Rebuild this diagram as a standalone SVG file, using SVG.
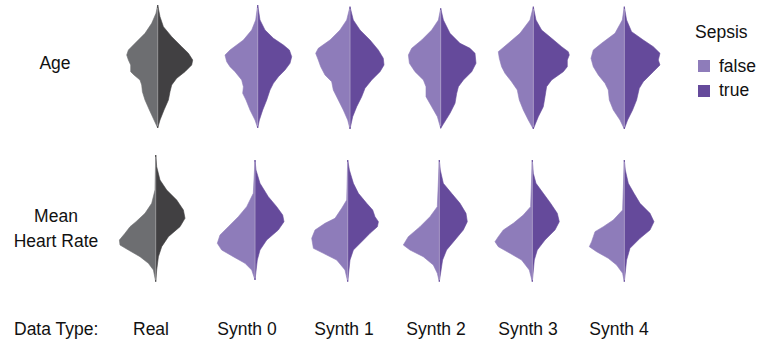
<svg xmlns="http://www.w3.org/2000/svg" width="773" height="341" viewBox="0 0 773 341">
<style>
text{font-family:"Liberation Sans",Arial,sans-serif;font-size:17.5px;fill:#111}
.mid{text-anchor:middle}
.rl{fill:#6d6e71;stroke:#6d6e71;stroke-width:0.6;stroke-linejoin:round}
.rr{fill:#414042;stroke:#414042;stroke-width:0.6;stroke-linejoin:round}
.fl{fill:#8e7cba;stroke:#8e7cba;stroke-width:0.6;stroke-linejoin:round}
.tr{fill:#654a9b;stroke:#654a9b;stroke-width:0.6;stroke-linejoin:round}
.cl{stroke:#ffffff;stroke-opacity:0.45;stroke-width:0.9}
</style>
<rect width="773" height="341" fill="#ffffff"/>
<g id="row-labels">
<text class="mid" x="55" y="69">Age</text>
<text class="mid" x="56" y="222">Mean</text>
<text class="mid" x="56" y="247">Heart Rate</text>
</g>
<g id="age-real" transform="translate(157.7,0)">
<path class="rl" d="M0,5 L-1.7,13.3 L-6,23.3 L-12.7,33.3 L-22.7,43.3 L-29.3,50 L-31,55 L-29.3,60 L-27,65 L-27,71.7 L-23.7,75 L-17.7,80 L-16,85 L-15.3,91.7 L-12.7,100 L-8.3,110 L-3.7,120 L0,128 Z"/>
<path class="rr" d="M0,5 L2.3,16.7 L5.7,26.7 L14,36.7 L24,46.7 L30.7,53.3 L35,60 L34,65 L27.3,71.7 L19,78.3 L14,85 L12.3,91.7 L10.7,100 L6.3,110 L2.3,120 L0,128 Z"/>
<line class="cl" x1="0" y1="8" x2="0" y2="126"/>
</g>
<g id="age-synth0" transform="translate(257.7,0)">
<path class="fl" d="M0,5 L-2,20 L-6,30 L-14.3,40 L-27.7,50 L-32.7,55 L-31,61.7 L-27.7,66.7 L-22.7,71.7 L-16,80 L-14.3,86.7 L-15,93.3 L-11.7,100 L-7.7,110 L-2.7,120 L0,128 Z"/>
<path class="tr" d="M0,5 L2.3,20 L7.3,30 L15.7,38.3 L25.7,45 L31.7,50 L34,56.7 L32.3,63.3 L27.3,70 L20.7,76.7 L15.7,83.3 L12.3,90 L9,100 L5,110 L1.7,120 L0,128 Z"/>
<line class="cl" x1="0" y1="8" x2="0" y2="126"/>
</g>
<g id="age-synth1" transform="translate(350,0)">
<path class="fl" d="M0,6.7 L-3.3,20 L-10,30 L-20,40 L-31.7,48.3 L-34.3,53.3 L-31.7,60 L-29.3,66.7 L-25,75 L-18.3,81.7 L-16.7,90 L-11.7,100 L-6.7,110 L-2.3,120 L0,129 Z"/>
<path class="tr" d="M0,6.7 L3.3,20 L10,30 L20,40 L28.3,50 L33.3,58.3 L34,65 L30,71.7 L21.7,80 L15,88.3 L11.7,96.7 L6.7,106.7 L2.7,116.7 L0,129 Z"/>
<line class="cl" x1="0" y1="9" x2="0" y2="127"/>
</g>
<g id="age-synth2" transform="translate(440.7,0)">
<path class="fl" d="M0,8.3 L-2.3,20 L-9,30 L-19,40 L-29,48.3 L-32.3,55 L-31.3,63.3 L-25.7,71.7 L-17.3,80 L-14.7,86.7 L-14.7,96.7 L-9,106.7 L-3.3,116.7 L0,128.3 Z"/>
<path class="tr" d="M0,8.3 L2.7,20 L9.3,33.3 L19.3,43.3 L29.3,48.3 L34.3,53.3 L35.3,63.3 L31,71.7 L22.7,80 L17.7,86.7 L16,93.3 L14.3,103.3 L9.3,113.3 L0,128.3 Z"/>
<line class="cl" x1="0" y1="10" x2="0" y2="126"/>
</g>
<g id="age-synth3" transform="translate(533.3,0)">
<path class="fl" d="M0,6.7 L-3.3,20 L-13.3,33.3 L-25,43.3 L-35,51.7 L-34,58.3 L-31.7,66.7 L-28.3,73.3 L-21.7,81.7 L-16,90 L-14,100 L-10,110 L-5,120 L0,129 Z"/>
<path class="tr" d="M0,6.7 L2.7,20 L8.3,30 L18.3,38.3 L28.3,46.7 L35,51.7 L36,55 L34,60 L34,66.7 L30,71.7 L18.3,80 L13.3,86.7 L11.7,96.7 L10,106.7 L5,116.7 L0,129 Z"/>
<line class="cl" x1="0" y1="9" x2="0" y2="127"/>
</g>
<g id="age-synth4" transform="translate(624.3,0)">
<path class="fl" d="M0,6.7 L-2,20 L-9.3,33.3 L-22.7,43.3 L-31,50 L-33.3,58.3 L-31,66.7 L-26,75 L-19.3,83.3 L-16,90 L-15,100 L-11,110 L-4.3,120 L0,129 Z"/>
<path class="tr" d="M0,6.7 L2.3,20 L7.3,31.7 L19,40 L29,46.7 L35.7,53.3 L34,60 L35.7,65 L29,71.7 L19,81.7 L15,88.3 L12.3,100 L8.3,110 L3.3,120 L0,129 Z"/>
<line class="cl" x1="0" y1="9" x2="0" y2="127"/>
</g>
<g id="hr-real" transform="translate(155.7,0)">
<path class="rl" d="M0,155 L-0.7,190 L-4,203.3 L-10.7,213.3 L-19.7,221.7 L-25.7,226.7 L-30.7,233.3 L-36.3,240 L-35.7,245 L-27.3,250 L-15.7,256.7 L-7.3,263.3 L-2.3,270 L0,281.7 Z"/>
<path class="rr" d="M0,155 L1,166.7 L4.3,180 L11,190 L21,200 L27.7,210 L29.3,218.3 L24.3,226.7 L12.7,236.7 L6,246.7 L2.7,256.7 L1,270 L0,281.7 Z"/>
<line class="cl" x1="0" y1="157" x2="0" y2="280"/>
</g>
<g id="hr-synth0" transform="translate(255,0)">
<path class="fl" d="M0,160 L-1.7,193.3 L-8.3,206.7 L-16.7,216.7 L-26.7,226.7 L-35,235 L-37.7,243.3 L-33.3,250 L-21.7,256.7 L-10,263.3 L-3.3,270 L0,280 Z"/>
<path class="tr" d="M0,160 L1,170 L5,183.3 L13.3,196.7 L21.7,206.7 L27.7,215 L29,221.7 L23.3,230 L11.7,240 L5,250 L2.3,260 L0,280 Z"/>
<line class="cl" x1="0" y1="162" x2="0" y2="278"/>
</g>
<g id="hr-synth1" transform="translate(347.7,0)">
<path class="fl" d="M0,160 L-1,200 L-6,208.3 L-12.7,218.3 L-22.7,223.3 L-32.7,230 L-36,238.3 L-34.3,248.3 L-24.3,253.3 L-11,260 L-2.7,270 L0,281.7 Z"/>
<path class="tr" d="M0,160 L1.7,170 L5.7,183.3 L10.7,193.3 L19,203.3 L25,210 L27.3,216.7 L30.7,221.7 L29.7,226.7 L22.3,233.3 L15.7,240 L5.7,250 L2.3,260 L0,281.7 Z"/>
<line class="cl" x1="0" y1="162" x2="0" y2="280"/>
</g>
<g id="hr-synth2" transform="translate(439.3,0)">
<path class="fl" d="M0,160 L-2,206.7 L-9.3,216.7 L-19.3,226.7 L-31,236.7 L-36,245 L-29.3,250 L-16,256.7 L-6,265 L-2,273.3 L0,281.7 Z"/>
<path class="tr" d="M0,160 L1,170 L4,183.3 L12.3,193.3 L20.7,203.3 L26.7,213.3 L28,221.7 L24,230 L15.7,240 L7.3,250 L3.3,260 L0,281.7 Z"/>
<line class="cl" x1="0" y1="162" x2="0" y2="280"/>
</g>
<g id="hr-synth3" transform="translate(532.3,0)">
<path class="fl" d="M0,160 L-1.7,206.7 L-9,215 L-19,223.3 L-29,230 L-34,236.7 L-37.3,241.7 L-34,246.7 L-22.3,253.3 L-10.7,260 L-3,270 L0,281.7 Z"/>
<path class="tr" d="M0,160 L1,173.3 L3.7,183.3 L11,193.3 L18.3,203.3 L25,213.3 L27,221.7 L22.7,230 L12.7,240 L5,250 L2,260 L0,281.7 Z"/>
<line class="cl" x1="0" y1="162" x2="0" y2="280"/>
</g>
<g id="hr-synth4" transform="translate(624.3,0)">
<path class="fl" d="M0,160 L-1.7,210 L-11,220 L-21,226.7 L-29.3,231.7 L-31,236.7 L-32.7,241.7 L-35,246.7 L-27.7,251.7 L-16,258.3 L-7.7,265 L-1.7,273.3 L0,281.7 Z"/>
<path class="tr" d="M0,160 L1,170 L4,183.3 L9.7,193.3 L15.7,203.3 L25.7,213.3 L29.7,221.7 L25.7,230 L15.7,238.3 L5.7,248.3 L2.3,260 L0,281.7 Z"/>
<line class="cl" x1="0" y1="162" x2="0" y2="280"/>
</g>
<g id="column-labels">
<text x="14" y="335">Data Type:</text>
<text class="mid" x="151" y="335">Real</text>
<text class="mid" x="247" y="335">Synth 0</text>
<text class="mid" x="344" y="335">Synth 1</text>
<text class="mid" x="436" y="335">Synth 2</text>
<text class="mid" x="528" y="335">Synth 3</text>
<text class="mid" x="619" y="335">Synth 4</text>
</g>
<g id="legend">
<text x="695" y="38">Sepsis</text>
<rect x="698" y="60" width="12" height="12" fill="#8e7cba"/>
<text x="719" y="72">false</text>
<rect x="698" y="85" width="12" height="12" fill="#654a9b"/>
<text x="719" y="96">true</text>
</g>
<g id="connectors"/>
</svg>
